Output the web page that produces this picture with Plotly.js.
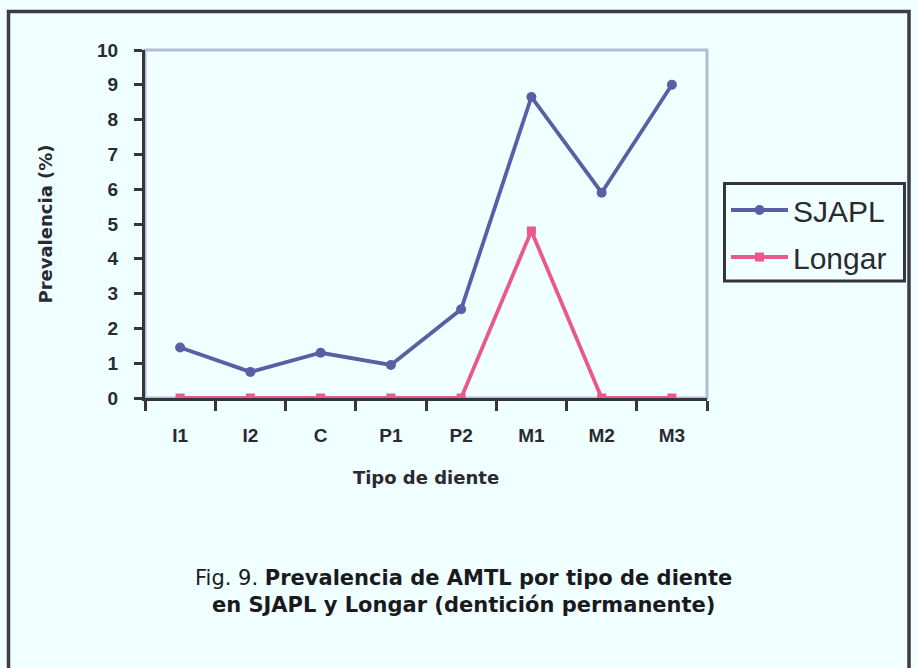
<!DOCTYPE html>
<html>
<head>
<meta charset="utf-8">
<script src="https://cdn.plot.ly/plotly-3.0.1.min.js"></script>
<style>
html,body{margin:0;padding:0;background:#f0ffff;}
#chart{width:917px;height:668px;}
</style>
</head>
<body>
<div id="chart"></div>
<script>
var categories = ["I1", "I2", "C", "P1", "P2", "M1", "M2", "M3"];
var sjaplValues = [1.45, 0.75, 1.3, 0.95, 2.55, 8.65, 5.9, 9.0];
var longarValues = [0, 0, 0, 0, 0, 4.8, 0, 0];
var seriesNames = ["SJAPL", "Longar"];
var yTickValues = [0, 1, 2, 3, 4, 5, 6, 7, 8, 9, 10];

var W = 917, H = 668, ML = 145, MR = 210, MT = 50, MB = 270;
var PW = W - ML - MR, PH = H - MT - MB;
function px(x){ return (x - ML) / PW; }
function py(y){ return (H - MB - y) / PH; }

var traces = [
  {
    x: categories, y: sjaplValues, name: seriesNames[0], type: "scatter", mode: "lines+markers",
    line: {color: "#5a5ea5", width: 3.8}, marker: {symbol: "circle", size: 10, color: "#5a5ea5"},
    legendgroup: "a"
  },
  {
    x: categories, y: longarValues, name: seriesNames[1], type: "scatter", mode: "lines+markers",
    line: {color: "#e9598b", width: 3.8}, marker: {symbol: "square", size: 9, color: "#e9598b"},
    legendgroup: "b"
  }
];

var tickFont = {family: "Liberation Sans, Arial, sans-serif", size: 19, color: "#2a2a30", weight: "bold"};
var titleFont = {family: "DejaVu Sans, sans-serif", size: 18, color: "#2a2a30", weight: "bold"};

var layout = {
  width: W, height: H,
  margin: {l: ML, r: MR, t: MT, b: MB, pad: 0},
  paper_bgcolor: "#f0ffff",
  plot_bgcolor: "#f0ffff",
  showlegend: true,
  legend: {
    x: px(726), y: py(184), xanchor: "left", yanchor: "top",
    bgcolor: "rgba(0,0,0,0)", borderwidth: 0,
    font: {family: "Liberation Sans, Arial, sans-serif", size: 30, color: "#2a2a30"},
    traceorder: "grouped", tracegroupgap: 5, itemwidth: 57
  },
  xaxis: {
    type: "category", range: [-0.5, 7.5], tickson: "boundaries",
    showline: true, linecolor: "#35353c", linewidth: 3,
    ticks: "outside", ticklen: 10, tickwidth: 3, tickcolor: "#35353c",
    showgrid: false, zeroline: false,
    tickfont: tickFont, ticklabelstandoff: 18,
    title: {text: "Tipo de diente", font: titleFont, standoff: 27}
  },
  yaxis: {
    range: [0, 10], tickvals: yTickValues,
    showline: true, linecolor: "#35353c", linewidth: 3,
    ticks: "outside", ticklen: 8, tickwidth: 3, tickcolor: "#35353c",
    showgrid: false, zeroline: false,
    tickfont: tickFont, ticklabelstandoff: 12,
    title: {text: "Prevalencia (%)", font: titleFont, standoff: 40}
  },
  shapes: [
    {type: "rect", xref: "paper", yref: "paper", x0: 0, x1: 1, y0: 0, y1: 1,
     line: {color: "#b4bcd4", width: 3}, layer: "below"},
    {type: "rect", xref: "paper", yref: "paper", x0: px(8.5), x1: px(909), y0: py(690), y1: py(11.5),
     line: {color: "#3c3c44", width: 3.5}, fillcolor: "rgba(0,0,0,0)", layer: "below"},
    {type: "rect", xref: "paper", yref: "paper", x0: px(724.5), x1: px(904.5), y0: py(281), y1: py(183.5),
     line: {color: "#35353c", width: 3}, fillcolor: "rgba(0,0,0,0)", layer: "below"}
  ],
  annotations: [
    {xref: "paper", yref: "paper", x: px(463), y: py(591), xanchor: "center", yanchor: "middle",
     showarrow: false, align: "center",
     font: {family: "DejaVu Sans, sans-serif", size: 21, color: "#1a1a1e"},
     text: "Fig. 9. <b>Prevalencia de AMTL por tipo de diente</b><br><b>en SJAPL y Longar (dentición permanente)</b>"}
  ]
};

Plotly.newPlot("chart", traces, layout, {displayModeBar: false, staticPlot: true});
</script>
</body>
</html>
